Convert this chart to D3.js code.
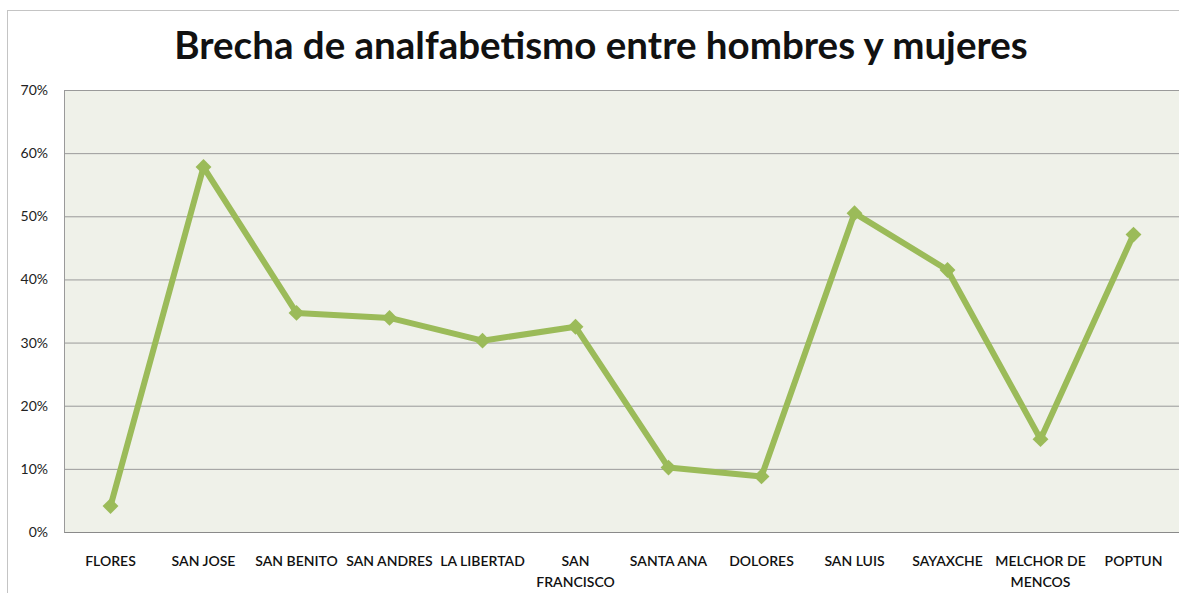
<!DOCTYPE html>
<html>
<head>
<meta charset="utf-8">
<script src="https://cdn.jsdelivr.net/npm/d3@7"></script>
<style>
  html, body { margin: 0; padding: 0; background: #fff; }
  svg { display: block; }
  .tick-y { font-family: "Lato", "Liberation Sans", sans-serif; font-size: 14px; fill: #222; }
  .tick-x { font-family: "Lato", "Liberation Sans", sans-serif; font-size: 14px; font-weight: 600; fill: #111; }
</style>
</head>
<body>
<div id="chart"></div>
<script>
// Brecha de analfabetismo entre hombres y mujeres, by municipio
var categories = ["FLORES", "SAN JOSE", "SAN BENITO", "SAN ANDRES", "LA LIBERTAD", "SAN FRANCISCO",
  "SANTA ANA", "DOLORES", "SAN LUIS", "SAYAXCHE", "MELCHOR DE MENCOS", "POPTUN"];
var categoryLines = [["FLORES"], ["SAN JOSE"], ["SAN BENITO"], ["SAN ANDRES"], ["LA LIBERTAD"], ["SAN", "FRANCISCO"],
  ["SANTA ANA"], ["DOLORES"], ["SAN LUIS"], ["SAYAXCHE"], ["MELCHOR DE", "MENCOS"], ["POPTUN"]];
var gap = [0.041, 0.578, 0.347, 0.339, 0.303, 0.325, 0.102, 0.088, 0.505, 0.415, 0.147, 0.471];
var yTicks = [0, 0.1, 0.2, 0.3, 0.4, 0.5, 0.6, 0.7];
var title = "Brecha de analfabetismo entre hombres y mujeres";

var width = 1179, height = 593;
var plot = { left: 64, right: 1180, top: 90, bottom: 532 };

var svg = d3.select("#chart").append("svg")
  .attr("width", width)
  .attr("height", height);

// outer chart frame
svg.append("rect")
  .attr("x", 7.5).attr("y", 10.5)
  .attr("width", width + 10).attr("height", height + 10)
  .attr("fill", "#fff")
  .attr("stroke", "#c4c4c4");

svg.append("text")
  .attr("x", 601).attr("y", 59)
  .attr("text-anchor", "middle")
  .style("font-family", "Lato, 'Open Sans', sans-serif")
  .style("font-weight", "bold")
  .style("font-size", "38.5px")
  .style("fill", "#111")
  .text(title);

var x = d3.scaleBand().domain(categories).range([plot.left, plot.right]);
var y = d3.scaleLinear().domain([0, 0.7]).range([plot.bottom, plot.top]);

svg.append("rect")
  .attr("x", plot.left).attr("y", plot.top)
  .attr("width", plot.right - plot.left).attr("height", plot.bottom - plot.top)
  .attr("fill", "#eff1e9");

// gridlines + y labels
var yAxis = svg.append("g")
  .attr("transform", "translate(" + plot.left + ",0)")
  .call(d3.axisLeft(y).tickValues(yTicks).tickFormat(d3.format(".0%"))
    .tickSize(-(plot.right - plot.left)).tickPadding(16));
yAxis.select(".domain").remove();
yAxis.selectAll(".tick line").attr("stroke", "#9a9a9a").attr("stroke-width", 1);
yAxis.selectAll(".tick text").attr("class", "tick-y");

svg.append("line")
  .attr("x1", plot.left + 0.5).attr("x2", plot.left + 0.5)
  .attr("y1", plot.top).attr("y2", plot.bottom)
  .attr("stroke", "#9a9a9a");

// category labels
var xAxis = svg.append("g")
  .attr("transform", "translate(0," + plot.bottom + ")")
  .call(d3.axisBottom(x).tickSize(0).tickFormat(""));
xAxis.select(".domain").attr("stroke", "#8a8a8a");
xAxis.selectAll(".tick").each(function (d, i) {
  var t = d3.select(this).append("text")
    .attr("class", "tick-x")
    .attr("text-anchor", "middle")
    .attr("y", 34);
  categoryLines[i].forEach(function (line, j) {
    t.append("tspan").attr("x", 0).attr("dy", j === 0 ? 0 : 21).text(line);
  });
});

var cx = function (d, i) { return x(categories[i]) + x.bandwidth() / 2; };

svg.append("path")
  .datum(gap)
  .attr("fill", "none")
  .attr("stroke", "#9bbb59")
  .attr("stroke-width", 6)
  .attr("stroke-linejoin", "round")
  .attr("d", d3.line().x(cx).y(function (d) { return y(d); }));

svg.selectAll("path.marker")
  .data(gap)
  .join("path")
  .attr("class", "marker")
  .attr("transform", function (d, i) { return "translate(" + cx(d, i) + "," + y(d) + ")"; })
  .attr("d", d3.symbol(d3.symbolDiamond2, 160))
  .attr("fill", "#9bbb59");
</script>
</body>
</html>
